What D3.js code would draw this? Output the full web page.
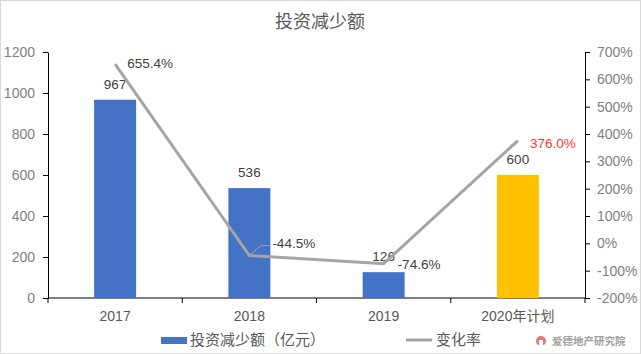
<!DOCTYPE html>
<head>
  <meta charset="utf-8">
  <script src="https://d3js.org/d3.v7.min.js"></script>
  <style>
    body { margin: 0; background: #fff; }
    text { font-family: "Liberation Sans", "Noto Sans CJK SC", sans-serif; }
    .axis text { fill: #7f7f7f; font-size: 14px; }
    .axis path, .axis line { stroke: #000; }
    .cat text { fill: #595959; }
    .label { font-size: 13.5px; }
  </style>
</head>
<body>
  <svg id="chart" width="641" height="354"></svg>
  <script>
    var categories = ['2017', '2018', '2019', '2020年计划'];
    var amounts = [967, 536, 126, 600];
    var changes = [655.4, -44.5, -74.6, 376.0];
    var barColors = ['#4472c4', '#4472c4', '#4472c4', '#ffc000'];
    var leftTicks = [0, 200, 400, 600, 800, 1000, 1200];
    var rightTicks = [-200, -100, 0, 100, 200, 300, 400, 500, 600, 700];

    var chart = d3.select('#chart');
    var margin = { top: 52, right: 56, bottom: 56, left: 48 };
    var width = 641 - margin.left - margin.right;
    var height = 354 - margin.top - margin.bottom;

    chart.append('rect')
      .attr('x', 0.5).attr('y', 0.5)
      .attr('width', 640).attr('height', 353)
      .attr('fill', '#fff').attr('stroke', '#d9d9d9');

    chart.append('text')
      .attr('x', 320).attr('y', 28)
      .attr('text-anchor', 'middle')
      .attr('fill', '#595959')
      .style('font-size', '18px')
      .text('投资减少额');

    var g = chart.append('g')
      .attr('transform', 'translate(' + margin.left + ',' + margin.top + ')');

    var x = d3.scaleBand().domain(categories).range([0, width]);
    var y1 = d3.scaleLinear().domain([0, 1200]).range([height, 0]);
    var y2 = d3.scaleLinear().domain([-200, 700]).range([height, 0]);

    g.append('g')
      .attr('class', 'axis')
      .call(d3.axisLeft(y1).tickValues(leftTicks).tickSize(5).tickPadding(8).tickSizeOuter(0)
        .tickFormat((d) => String(d)));

    g.append('g')
      .attr('class', 'axis')
      .attr('transform', 'translate(' + width + ',0)')
      .call(d3.axisRight(y2).tickValues(rightTicks).tickSize(5).tickPadding(7).tickSizeOuter(0)
        .tickFormat((d) => (d < 0 ? '-' + Math.abs(d) : d) + '%'));

    // x axis: line with ticks at band boundaries
    var xa = g.append('g').attr('class', 'axis cat')
      .attr('transform', 'translate(0,' + height + ')');
    xa.append('line').attr('x1', 0).attr('x2', width).attr('stroke', '#000');
    var bounds = categories.map((c) => x(c)).concat([width]);
    xa.selectAll('line.tick').data(bounds).enter().append('line')
      .attr('class', 'tick')
      .attr('x1', (d) => d).attr('x2', (d) => d)
      .attr('y1', 0).attr('y2', 5)
      .attr('stroke', '#000');
    xa.selectAll('text').data(categories).enter().append('text')
      .attr('x', (d) => x(d) + x.bandwidth() / 2)
      .attr('y', 23)
      .attr('text-anchor', 'middle')
      .text((d) => d);

    var barW = 42;
    g.selectAll('rect.bar').data(amounts).enter().append('rect')
      .attr('class', 'bar')
      .attr('x', (d, i) => x(categories[i]) + x.bandwidth() / 2 - barW / 2)
      .attr('y', (d) => y1(d))
      .attr('width', barW)
      .attr('height', (d) => height - y1(d))
      .attr('fill', (d, i) => barColors[i]);

    g.selectAll('text.bl').data(amounts).enter().append('text')
      .attr('class', 'label bl')
      .attr('x', (d, i) => x(categories[i]) + x.bandwidth() / 2)
      .attr('y', (d) => y1(d) - 11)
      .attr('text-anchor', 'middle')
      .style('fill', '#404040')
      .text((d) => d);

    var cx = (i) => x(categories[i]) + x.bandwidth() / 2;

    g.append('path')
      .datum(changes)
      .attr('fill', 'none')
      .attr('stroke', '#a5a5a5')
      .attr('stroke-width', 3)
      .attr('d', d3.line().x((d, i) => cx(i)).y((d) => y2(d)));

    // leader line for -44.5%
    g.append('path')
      .attr('fill', 'none')
      .attr('stroke', '#a5a5a5')
      .attr('stroke-width', 1)
      .attr('d', 'M' + (cx(1) + 1) + ',' + (y2(changes[1]) - 1) + 'L' + (cx(1) + 12) + ',' + (y2(changes[1]) - 10) + 'H' + (cx(1) + 20));

    var lblOffsets = [[12, 4], [23, -7], [14, 5], [12, 7]];
    g.selectAll('text.ll').data(changes).enter().append('text')
      .attr('class', 'label ll')
      .attr('x', (d, i) => cx(i) + lblOffsets[i][0])
      .attr('y', (d, i) => y2(d) + lblOffsets[i][1])
      .style('fill', (d, i) => i === 3 ? '#ff3333' : '#404040')
      .text((d) => d.toFixed(1) + '%');

    // legend
    var lg = chart.append('g').attr('transform', 'translate(0,340)');
    lg.append('rect').attr('x', 161).attr('y', -3).attr('width', 26).attr('height', 7).attr('fill', '#4472c4');
    lg.append('text').attr('x', 190).attr('y', 5).attr('fill', '#595959').style('font-size', '15px').text('投资减少额（亿元）');
    lg.append('line').attr('x1', 406).attr('x2', 432).attr('y1', 0).attr('y2', 0).attr('stroke', '#a5a5a5').attr('stroke-width', 3);
    lg.append('text').attr('x', 436).attr('y', 5).attr('fill', '#595959').style('font-size', '15px').text('变化率');

    // watermark
    var wm = chart.append('g').attr('transform', 'translate(541,341)');
    wm.append('circle').attr('r', 5).attr('fill', '#e07a7a');
    wm.append('rect').attr('x', -2).attr('y', -1).attr('width', 4).attr('height', 6).attr('fill', '#fff');
    wm.append('text').attr('x', 11).attr('y', 4).attr('fill', '#a0a0a0')
      .style('font-size', '10.5px').style('font-weight', 'bold').text('爱德地产研究院');
  </script>
</body>
</html>
